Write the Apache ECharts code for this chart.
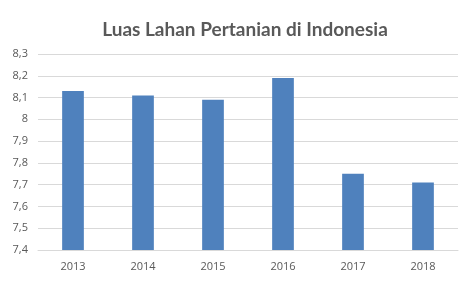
<!DOCTYPE html>
<html><head><meta charset="utf-8">
<script src="https://cdn.jsdelivr.net/npm/echarts@6/dist/echarts.min.js"></script>
<style>html,body{margin:0;padding:0;background:#fff}#c{width:474px;height:301px}</style>
</head><body><div id="c"></div>
<script>
const categories = ['2013','2014','2015','2016','2017','2018'];
const values = [8.13, 8.11, 8.09, 8.19, 7.75, 7.71];
const titleText = 'Luas Lahan Pertanian di Indonesia';
const chart = echarts.init(document.getElementById('c'));
chart.setOption({
  animation: false,
  backgroundColor: '#fff',
  title: { text: titleText, left: 240, textAlign: 'center', top: 15,
    textStyle: { fontFamily: 'Lato', fontSize: 19, fontWeight: 'bold', color: '#595959' } },
  grid: { left: 38, right: 16, top: 54, bottom: 51 },
  xAxis: { type: 'category', data: categories,
    axisLine: { lineStyle: { color: '#d9d9d9' } }, axisTick: { show: false },
    axisLabel: { color: '#595959', fontFamily: 'Open Sans', fontSize: 11, margin: 11 } },
  yAxis: { type: 'value', min: 7.4, max: 8.3, interval: 0.1,
    axisLine: { show: false }, axisTick: { show: false },
    splitLine: { lineStyle: { color: '#d9d9d9' } },
    axisLabel: { color: '#595959', fontFamily: 'Open Sans', fontSize: 11, margin: 10,
      formatter: v => (Math.round(v*10)/10).toString().replace('.', ',') } },
  series: [{ type: 'bar', data: values, barWidth: '31%', itemStyle: { color: '#4f81bd' } }]
});
</script></body></html>
